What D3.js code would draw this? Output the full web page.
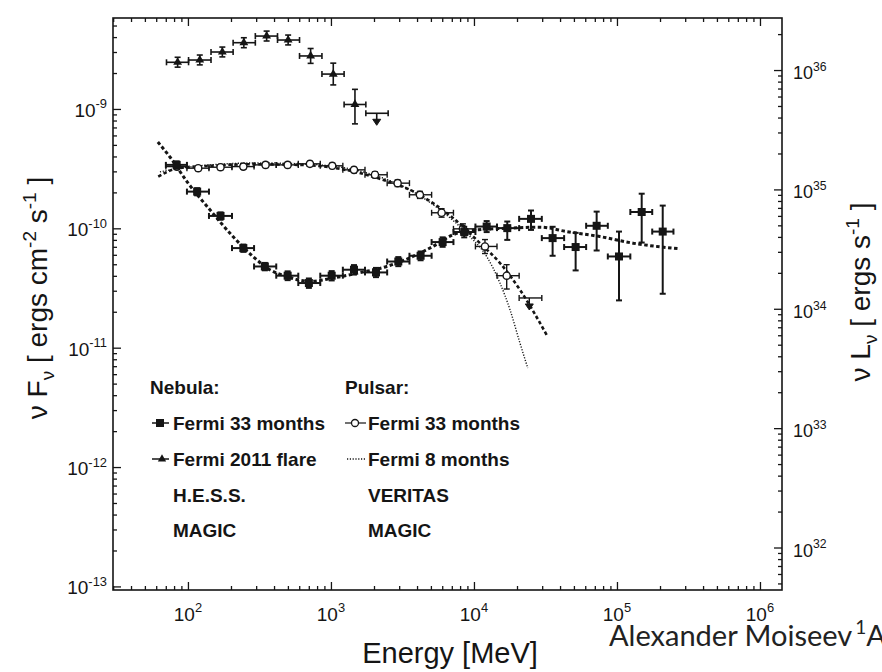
<!DOCTYPE html>
<html>
<head>
<meta charset="utf-8">
<script src="https://cdn.jsdelivr.net/npm/d3@7"></script>
<style>
body { margin: 0; background: #fff; }
svg { display: block; font-family: "Liberation Sans", Arial, sans-serif; }
</style>
</head>
<body>
<div id="chart"></div>
<script>
// tick labels (powers of ten)
var xTickExps = [2, 3, 4, 5, 6];
var yTickExps = [-9, -10, -11, -12, -13];
var rTickExps = [32, 33, 34, 35, 36];

// shared Fermi energy bin edges [MeV]
var binEdges = [70.1, 98.4, 140.3, 203.2, 290, 414.5, 591, 842, 1211, 1730, 2472, 3540, 5058,
                7188, 10240, 14490, 20700, 29820, 42710, 60880, 86300, 124000, 176400, 248300];

// Nebula, Fermi 33 months
var nebE  = [83.4, 116, 169, 244, 345, 498, 701, 1012, 1449, 2065, 2958, 4236, 6039, 8551, 12270,
             17100, 25060, 35480, 51400, 72100, 103300, 148900, 208900];
var nebF  = [3.40e-10, 2.03e-10, 1.27e-10, 6.83e-11, 4.79e-11, 4.01e-11, 3.48e-11, 4.01e-11, 4.50e-11,
             4.27e-11, 5.27e-11, 5.89e-11, 7.67e-11, 9.31e-11, 1.035e-10, 1.004e-10, 1.20e-10, 8.28e-11,
             6.97e-11, 1.05e-10, 5.81e-11, 1.37e-10, 9.39e-11];
var nebLo = [3.16e-10, 1.89e-10, 1.18e-10, 6.35e-11, 4.45e-11, 3.68e-11, 3.17e-11, 3.66e-11, 4.10e-11,
             3.90e-11, 4.82e-11, 5.40e-11, 7.0e-11, 8.4e-11, 9.3e-11, 8.0e-11, 9.7e-11, 5.89e-11,
             4.44e-11, 6.52e-11, 2.49e-11, 7.60e-11, 2.83e-11];
var nebHi = [3.64e-10, 2.17e-10, 1.36e-10, 7.31e-11, 5.13e-11, 4.36e-11, 3.80e-11, 4.38e-11, 4.92e-11,
             4.66e-11, 5.74e-11, 6.40e-11, 8.4e-11, 1.03e-10, 1.15e-10, 1.14e-10, 1.41e-10, 1.03e-10,
             9.16e-11, 1.38e-10, 9.39e-11, 1.95e-10, 1.55e-10];

// Nebula, Fermi 2011 flare
var flareEdges = [70.8, 101, 145, 207, 296, 423, 603, 865, 1236, 1754, 2512];
var flareE  = [84.7, 121, 174, 246, 355, 502, 721, 1038, 1472];
var flareF  = [2.46e-9, 2.57e-9, 3.0e-9, 3.59e-9, 4.08e-9, 3.78e-9, 2.78e-9, 1.96e-9, 1.09e-9];
var flareLo = [2.24e-9, 2.34e-9, 2.73e-9, 3.26e-9, 3.71e-9, 3.44e-9, 2.41e-9, 1.59e-9, 0.75e-9];
var flareHi = [2.71e-9, 2.83e-9, 3.30e-9, 3.95e-9, 4.49e-9, 4.16e-9, 3.21e-9, 2.42e-9, 1.46e-9];
var flareUlE = 2090, flareUlF = 9.2e-10;

// Pulsar, Fermi 33 months
var pulE  = [83.8, 118, 169, 244, 349, 498, 713, 1021, 1449, 2031, 2926, 4188, 5940, 8370, 11940, 16940];
var pulF  = [3.29e-10, 3.19e-10, 3.25e-10, 3.29e-10, 3.40e-10, 3.40e-10, 3.47e-10, 3.34e-10, 3.09e-10,
             2.81e-10, 2.39e-10, 1.91e-10, 1.35e-10, 9.9e-11, 7.05e-11, 4.01e-11];
var pulLo = [3.12e-10, 3.03e-10, 3.09e-10, 3.12e-10, 3.23e-10, 3.23e-10, 3.30e-10, 3.17e-10, 2.94e-10,
             2.65e-10, 2.24e-10, 1.78e-10, 1.24e-10, 9.0e-11, 6.15e-11, 3.10e-11];
var pulHi = [3.46e-10, 3.35e-10, 3.41e-10, 3.46e-10, 3.57e-10, 3.57e-10, 3.64e-10, 3.51e-10, 3.24e-10,
             2.97e-10, 2.54e-10, 2.04e-10, 1.46e-10, 1.09e-10, 8.05e-11, 4.96e-11];
var pulUlE = 24380, pulUlF = 2.61e-11;

// model curves
var nebModelE = [61.6, 74.8, 100, 142.5, 206.5, 285, 374, 490, 713, 1033, 1596, 2452, 3741, 5164, 7130,
                 10440, 17870, 28970, 44500, 76000, 129400, 276000];
var nebModelF = [5.29e-10, 3.96e-10, 2.40e-10, 1.43e-10, 8.53e-11, 5.81e-11, 4.50e-11, 3.95e-11, 3.59e-11,
                 3.83e-11, 4.25e-11, 4.79e-11, 5.81e-11, 7.05e-11, 8.83e-11, 9.71e-11, 1.004e-10, 1.023e-10,
                 9.39e-11, 8.53e-11, 7.51e-11, 6.73e-11];
var pulModelE = [62, 85.1, 142.5, 271.5, 607, 1156, 2089, 3975, 7130, 11010, 15200, 20990, 32240];
var pulModelF = [2.71e-10, 3.19e-10, 3.34e-10, 3.44e-10, 3.40e-10, 3.15e-10, 2.65e-10, 1.97e-10, 1.22e-10,
                 7.51e-11, 5.12e-11, 3.05e-11, 1.28e-11];
var pul8E = [63.7, 121, 318, 837, 1875, 3565, 5780, 9370, 12270, 15200, 17870, 20990, 23770];
var pul8F = [2.97e-10, 3.34e-10, 3.53e-10, 3.40e-10, 2.86e-10, 2.10e-10, 1.43e-10, 8.53e-11, 5.81e-11,
             3.48e-11, 2.08e-11, 1.09e-11, 6.76e-12];

var nebLegend = ['Fermi 33 months', 'Fermi 2011 flare', 'H.E.S.S.', 'MAGIC'];
var pulLegend = ['Fermi 33 months', 'Fermi 8 months', 'VERITAS', 'MAGIC'];

var ink = '#151515';
var width = 882, height = 672;
var svg = d3.select('#chart').append('svg')
    .attr('width', width)
    .attr('height', height);

var x = d3.scaleLog().domain([Math.pow(10, 1.476), Math.pow(10, 6.154)]).range([113, 782]);
var y = d3.scaleLog().domain([Math.pow(10, -13.03), Math.pow(10, -8.238)]).range([590, 18]);
var yR = d3.scaleLog().domain([Math.pow(10, 31.644), Math.pow(10, 36.436)]).range([590, 18]);

function pow10(e) { return Math.pow(10, e); }
function minorTicks(scale) {
    var d = scale.domain(), out = [];
    var lo = Math.floor(Math.log10(d[0])), hi = Math.ceil(Math.log10(d[1]));
    for (var e = lo; e <= hi; e++) {
        for (var m = 2; m <= 9; m++) {
            var v = m * Math.pow(10, e);
            if (v > d[0] && v < d[1]) out.push(v);
        }
    }
    return out;
}

// axes, ticks pointing inwards
function tickAxis(axisFn, scale, values, size, tr) {
    svg.append('g')
        .attr('transform', tr)
        .call(axisFn(scale).tickValues(values).tickSize(-size).tickSizeOuter(0).tickFormat(''))
        .call(function(g) {
            g.select('.domain').remove();
            g.selectAll('line').attr('stroke', ink).attr('stroke-width', 1.3);
        });
}
var xMajor = xTickExps.map(pow10);
tickAxis(d3.axisBottom, x, xMajor, 8, 'translate(0,590)');
tickAxis(d3.axisBottom, x, minorTicks(x), 4, 'translate(0,590)');
tickAxis(d3.axisTop, x, xMajor, 8, 'translate(0,18)');
tickAxis(d3.axisTop, x, minorTicks(x), 4, 'translate(0,18)');
tickAxis(d3.axisLeft, y, yTickExps.map(pow10), 8, 'translate(113,0)');
tickAxis(d3.axisLeft, y, minorTicks(y), 4, 'translate(113,0)');
tickAxis(d3.axisRight, yR, rTickExps.map(pow10), 8, 'translate(782,0)');
tickAxis(d3.axisRight, yR, minorTicks(yR), 4, 'translate(782,0)');

svg.append('rect')
    .attr('x', x.range()[0])
    .attr('y', y.range()[1])
    .attr('width', x.range()[1] - x.range()[0])
    .attr('height', y.range()[0] - y.range()[1])
    .attr('fill', 'none')
    .attr('stroke', ink)
    .attr('stroke-width', 1.6);

function powerLabel(px, py, exp, anchor, size) {
    var t = svg.append('text')
        .attr('x', px)
        .attr('y', py)
        .attr('text-anchor', anchor)
        .attr('font-size', size)
        .attr('fill', ink);
    t.append('tspan').text('10');
    t.append('tspan').attr('font-size', size * 0.68).attr('dy', -size * 0.45).text(exp);
}
xTickExps.forEach(function(e) { powerLabel(x(pow10(e)), 621, e, 'middle', 19); });
yTickExps.forEach(function(e) { powerLabel(107, y(pow10(e)) + 8, e, 'end', 19); });
rTickExps.forEach(function(e) { powerLabel(793, yR(pow10(e)) + 9, e, 'start', 18); });

// model curves
function drawCurve(E, F, w, dash) {
    var pts = E.map(function(e, i) { return [e, F[i]]; });
    svg.append('path')
        .datum(pts)
        .attr('fill', 'none')
        .attr('stroke', ink)
        .attr('stroke-width', w)
        .attr('stroke-dasharray', dash)
        .attr('d', d3.line()
            .x(function(d) { return x(d[0]); })
            .y(function(d) { return y(d[1]); })
            .curve(d3.curveMonotoneX));
}
drawCurve(nebModelE, nebModelF, 3, '3.5 2.5');
drawCurve(pulModelE, pulModelF, 2.6, '3.5 2.5');
drawCurve(pul8E, pul8F, 1.4, '1.2 1.6');

// data points with error bars
function errorBars(E, F, lo, hi, edges, w) {
    var g = svg.append('g').attr('stroke', ink).attr('stroke-width', w);
    var cap = 3;
    E.forEach(function(e, i) {
        var cx = x(e), cy = y(F[i]);
        var x0 = x(edges[i]), x1 = x(edges[i + 1]);
        var y0 = y(lo[i]), y1 = y(hi[i]);
        g.append('line').attr('x1', x0).attr('x2', x1).attr('y1', cy).attr('y2', cy);
        g.append('line').attr('x1', x0).attr('x2', x0).attr('y1', cy - cap).attr('y2', cy + cap);
        g.append('line').attr('x1', x1).attr('x2', x1).attr('y1', cy - cap).attr('y2', cy + cap);
        g.append('line').attr('x1', cx).attr('x2', cx).attr('y1', y0).attr('y2', y1);
        g.append('line').attr('x1', cx - cap).attr('x2', cx + cap).attr('y1', y0).attr('y2', y0);
        g.append('line').attr('x1', cx - cap).attr('x2', cx + cap).attr('y1', y1).attr('y2', y1);
    });
}
function upperLimit(e, f, e0, e1, w) {
    var cx = x(e), cy = y(f), x0 = x(e0), x1 = x(e1);
    var g = svg.append('g').attr('stroke', ink).attr('stroke-width', w).attr('fill', ink);
    g.append('line').attr('x1', x0).attr('x2', x1).attr('y1', cy).attr('y2', cy);
    g.append('line').attr('x1', x0).attr('x2', x0).attr('y1', cy - 3).attr('y2', cy + 3);
    g.append('line').attr('x1', x1).attr('x2', x1).attr('y1', cy - 3).attr('y2', cy + 3);
    g.append('line').attr('x1', cx).attr('x2', cx).attr('y1', cy).attr('y2', cy + 8);
    g.append('path').attr('stroke-width', 1)
        .attr('d', 'M' + (cx - 4) + ',' + (cy + 6) + 'L' + (cx + 4) + ',' + (cy + 6) + 'L' + cx + ',' + (cy + 12) + 'Z');
}

errorBars(flareE, flareF, flareLo, flareHi, flareEdges, 1.6);
upperLimit(flareUlE, flareUlF, flareEdges[9], flareEdges[10], 1.6);
svg.append('g').selectAll('path')
    .data(flareE)
    .enter().append('path')
    .attr('transform', function(d, i) { return 'translate(' + x(d) + ',' + y(flareF[i]) + ')'; })
    .attr('d', d3.symbol(d3.symbolTriangle).size(34))
    .attr('fill', ink);

errorBars(pulE, pulF, pulLo, pulHi, binEdges, 1.4);
upperLimit(pulUlE, pulUlF, binEdges[16], binEdges[17], 1.4);
svg.append('g').selectAll('circle')
    .data(pulE)
    .enter().append('circle')
    .attr('cx', function(d) { return x(d); })
    .attr('cy', function(d, i) { return y(pulF[i]); })
    .attr('r', 3.6)
    .attr('fill', '#fff')
    .attr('stroke', ink)
    .attr('stroke-width', 1.4);

errorBars(nebE, nebF, nebLo, nebHi, binEdges, 2);
svg.append('g').selectAll('rect')
    .data(nebE)
    .enter().append('rect')
    .attr('x', function(d) { return x(d) - 4; })
    .attr('y', function(d, i) { return y(nebF[i]) - 4; })
    .attr('width', 8)
    .attr('height', 8)
    .attr('fill', ink);

// legend
var legend = svg.append('g')
    .attr('font-size', 19)
    .attr('font-weight', 'bold')
    .attr('fill', ink);
var rows = [430, 466, 502, 537];
legend.append('text').attr('x', 150).attr('y', 394).text('Nebula:');
legend.append('text').attr('x', 345).attr('y', 394).text('Pulsar:');
nebLegend.forEach(function(s, i) {
    legend.append('text').attr('x', 173).attr('y', rows[i]).text(s);
});
pulLegend.forEach(function(s, i) {
    legend.append('text').attr('x', 368).attr('y', rows[i]).text(s);
});
var my = -7;
legend.append('line').attr('x1', 152).attr('x2', 169).attr('y1', rows[0] + my).attr('y2', rows[0] + my)
    .attr('stroke', ink).attr('stroke-width', 1.5);
legend.append('rect').attr('x', 156).attr('y', rows[0] + my - 4).attr('width', 8).attr('height', 8);
legend.append('line').attr('x1', 152).attr('x2', 169).attr('y1', rows[1] + my).attr('y2', rows[1] + my)
    .attr('stroke', ink).attr('stroke-width', 1.5);
legend.append('path').attr('transform', 'translate(162,' + (rows[1] + my) + ')')
    .attr('d', d3.symbol(d3.symbolTriangle).size(30));
legend.append('line').attr('x1', 345).attr('x2', 366).attr('y1', rows[0] + my).attr('y2', rows[0] + my)
    .attr('stroke', ink).attr('stroke-width', 1.2);
legend.append('circle').attr('cx', 355).attr('cy', rows[0] + my).attr('r', 3.5)
    .attr('fill', '#fff').attr('stroke', ink).attr('stroke-width', 1.3);
legend.append('line').attr('x1', 347).attr('x2', 366).attr('y1', rows[1] + my).attr('y2', rows[1] + my)
    .attr('stroke', ink).attr('stroke-width', 1.4).attr('stroke-dasharray', '1.2 1.6');

// axis titles
svg.append('text')
    .attr('x', 450)
    .attr('y', 663)
    .attr('text-anchor', 'middle')
    .attr('font-size', 29)
    .attr('fill', ink)
    .text('Energy [MeV]');

var yt = svg.append('text')
    .attr('transform', 'translate(47,298) rotate(-90)')
    .attr('text-anchor', 'middle')
    .attr('font-size', 28)
    .attr('fill', ink);
yt.append('tspan').text('\u03bd F');
yt.append('tspan').attr('font-size', 19).attr('dy', 7).text('\u03bd');
yt.append('tspan').attr('dy', -7).text(' [ ergs cm');
yt.append('tspan').attr('font-size', 19).attr('dy', -11).text('-2');
yt.append('tspan').attr('dy', 11).text(' s');
yt.append('tspan').attr('font-size', 19).attr('dy', -11).text('-1');
yt.append('tspan').attr('dy', 11).text(' ]');

var rt = svg.append('text')
    .attr('transform', 'translate(870,292) rotate(-90)')
    .attr('text-anchor', 'middle')
    .attr('font-size', 28)
    .attr('fill', ink);
rt.append('tspan').text('\u03bd L');
rt.append('tspan').attr('font-size', 19).attr('dy', 7).text('\u03bd');
rt.append('tspan').attr('dy', -7).text(' [ ergs s');
rt.append('tspan').attr('font-size', 19).attr('dy', -11).text('-1');
rt.append('tspan').attr('dy', 11).text(' ]');

// footer credit
var credit = svg.append('text')
    .attr('x', 609)
    .attr('y', 646)
    .attr('font-family', 'Lato, "Open Sans", sans-serif')
    .attr('font-size', 29)
    .attr('fill', '#222');
credit.append('tspan').text('Alexander Moiseev');
credit.append('tspan').attr('font-size', 19).attr('dx', 3).attr('dy', -12).text('1');
credit.append('tspan').attr('dy', 12).text('A');
</script>
</body>
</html>
